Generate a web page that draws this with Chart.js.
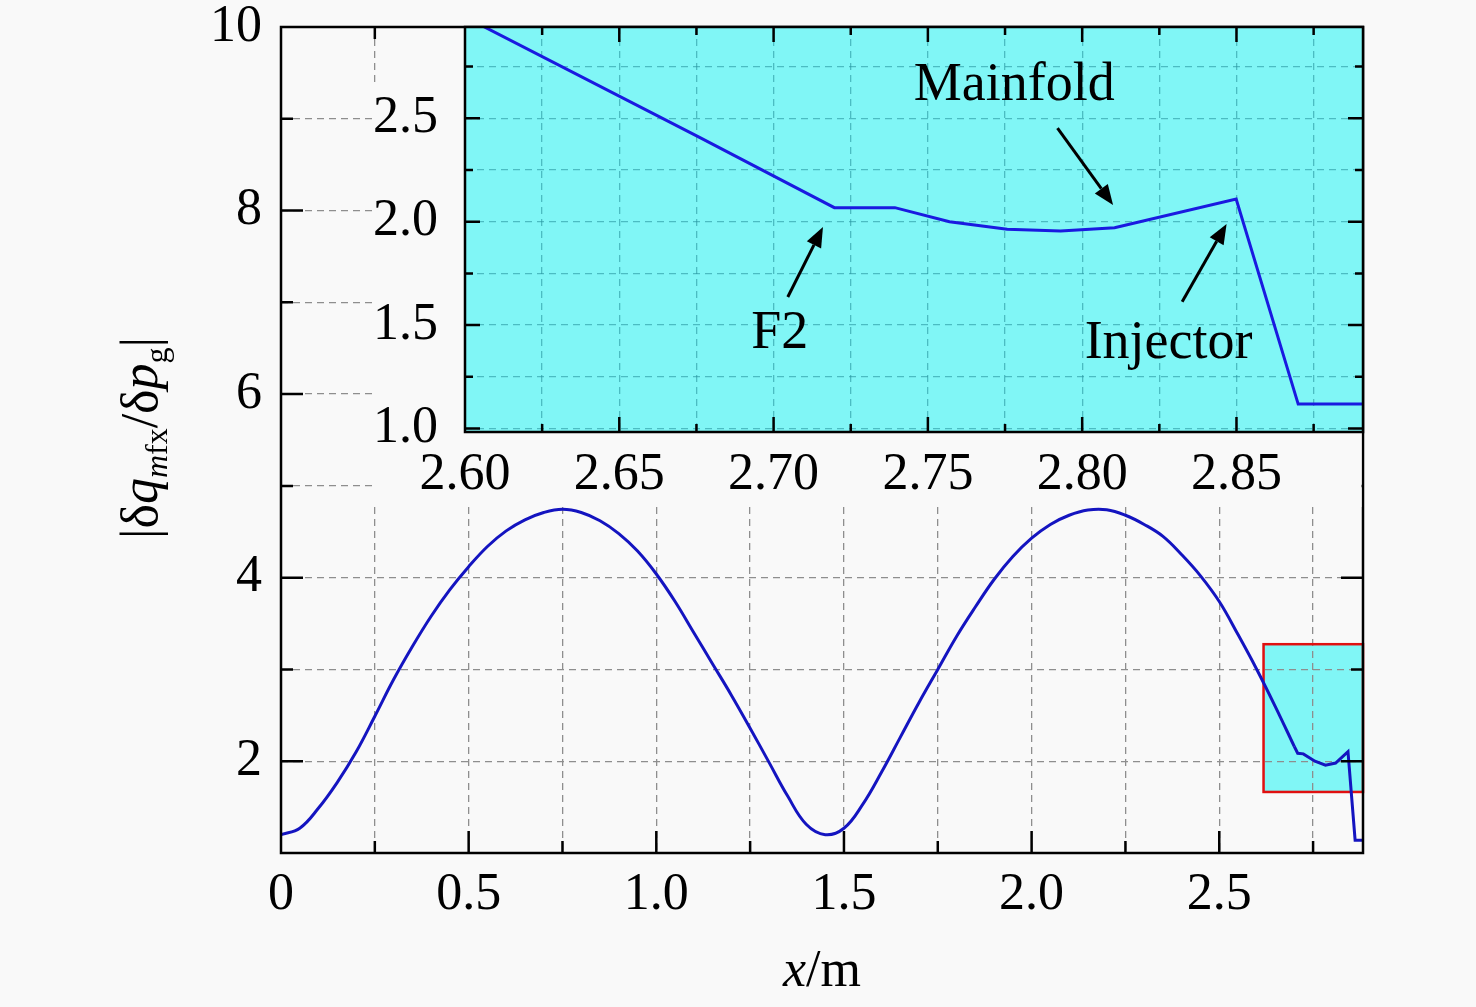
<!DOCTYPE html>
<html>
<head>
<meta charset="utf-8">
<script src="https://cdn.jsdelivr.net/npm/chart.js@4.4.0/dist/chart.umd.min.js"></script>
<style>
html,body{margin:0;padding:0;background:#f9f9f9;overflow:hidden}
#wrap{position:relative;width:1476px;height:1007px}
#wrap canvas{position:absolute;left:0;top:0}
</style>
</head>
<body>
<div id="wrap">
<canvas id="main" width="1476" height="1007"></canvas>
<canvas id="inset" width="1476" height="1007"></canvas>
</div>
<script>
// ---------------- data ----------------
const mainX = [0, 0.05, 0.10, 0.15, 0.20, 0.25, 0.30, 0.35, 0.40, 0.45, 0.50, 0.55, 0.60, 0.65, 0.70, 0.75,
  0.80, 0.85, 0.90, 0.95, 1.00, 1.05, 1.10, 1.15, 1.20, 1.25, 1.30, 1.35, 1.40, 1.45,
  1.50, 1.55, 1.60, 1.65, 1.70, 1.75, 1.80, 1.85, 1.90, 1.95, 2.00, 2.05, 2.10, 2.15,
  2.20, 2.25, 2.30, 2.35, 2.40, 2.45, 2.50, 2.55, 2.60, 2.65, 2.70];
const mainY = [1.20, 1.27, 1.49, 1.77, 2.10, 2.49, 2.89, 3.25, 3.58, 3.87, 4.12, 4.34, 4.51, 4.63, 4.71, 4.745,
  4.71, 4.62, 4.48, 4.29, 4.04, 3.74, 3.40, 3.06, 2.72, 2.36, 1.99, 1.62, 1.31, 1.20,
  1.27, 1.53, 1.88, 2.26, 2.64, 3.00, 3.36, 3.68, 3.98, 4.23, 4.43, 4.58, 4.68, 4.737,
  4.74, 4.68, 4.58, 4.45, 4.25, 4.02, 3.74, 3.38, 3.00, 2.59, 2.16];
const tailX = [2.70, 2.709, 2.724, 2.755, 2.783, 2.81, 2.843, 2.862, 2.883];
const tailY = [2.16, 2.087, 2.08, 2.0, 1.956, 1.98, 2.105, 1.14, 1.14];

const insetX = [2.60, 2.676, 2.7197, 2.7393, 2.757, 2.7757, 2.793, 2.8105, 2.8499, 2.870, 2.891];
const insetY = [2.99, 2.408, 2.068, 2.068, 2.0, 1.963, 1.955, 1.971, 2.110, 1.118, 1.118];

const zoomBoxX = [2.618, 2.883];
const zoomBoxY = [1.665, 3.275];

const mainXMajor = [0, 0.5, 1.0, 1.5, 2.0, 2.5];
const mainXMinor = [0.25, 0.75, 1.25, 1.75, 2.25, 2.75];
const xTickLabels = ['0', '0.5', '1.0', '1.5', '2.0', '2.5'];
const mainYMajor = [2, 4, 6, 8, 10];
const mainYMinor = [1, 3, 5, 7, 9];
const yTickLabels = ['2', '4', '6', '8', '10'];

const insetXMajor = [2.60, 2.65, 2.70, 2.75, 2.80, 2.85];
const insetXMinor = [2.625, 2.675, 2.725, 2.775, 2.825, 2.875];
const insetXTickLabels = ['2.60', '2.65', '2.70', '2.75', '2.80', '2.85'];
const insetYMajor = [1.0, 1.5, 2.0, 2.5];
const insetYMinor = [1.25, 1.75, 2.25, 2.75];
const insetYTickLabels = ['1.0', '1.5', '2.0', '2.5'];

const noteTexts = ['Mainfold', 'F2', 'Injector'];
// ----------------------------------------------------------------

const FONT = "'Liberation Serif', 'Times New Roman', serif";
Chart.defaults.font.family = FONT;
Chart.defaults.font.size = 52;
Chart.defaults.color = '#000';

// annotation placement (inset data coordinates)
const notes = [
  { text: noteTexts[0], t: [2.778, 2.588], a0: [2.792, 2.453], a1: [2.810, 2.081] },
  { text: noteTexts[1], t: [2.702, 1.389], a0: [2.7046, 1.636], a1: [2.716, 1.974] },
  { text: noteTexts[2], t: [2.828, 1.341], a0: [2.8324, 1.613], a1: [2.8468, 1.989] }
];

function setTicks(major, minor) {
  return function (scale) {
    const all = major.concat(minor).map(v => ({ value: v }));
    all.sort((a, b) => a.value - b.value);
    scale.ticks = all;
  };
}
function isMajor(major, v) { return major.some(m => Math.abs(m - v) < 1e-9); }
function labelFor(major, labels) {
  return function (value) {
    const i = major.findIndex(m => Math.abs(m - value) < 1e-9);
    return i >= 0 ? labels[i] : '';
  };
}
function pts(xs, ys) { return xs.map((x, i) => ({ x: x, y: ys[i] })); }

function drawFrameTicks(chart, xMajor, yMajor, majLen, minLen, lw) {
  const { ctx, chartArea: a } = chart;
  const sx = chart.scales.x, sy = chart.scales.y;
  ctx.save();
  ctx.strokeStyle = '#000';
  ctx.lineWidth = lw;
  ctx.beginPath();
  sx.ticks.forEach(t => {
    const p = sx.getPixelForValue(t.value);
    if (p < a.left + 1 || p > a.right - 1) return;
    const L = isMajor(xMajor, t.value) ? majLen : minLen;
    ctx.moveTo(p, a.bottom); ctx.lineTo(p, a.bottom - L);
    ctx.moveTo(p, a.top); ctx.lineTo(p, a.top + L);
  });
  sy.ticks.forEach(t => {
    const p = sy.getPixelForValue(t.value);
    if (p < a.top + 1 || p > a.bottom - 1) return;
    const L = isMajor(yMajor, t.value) ? majLen : minLen;
    ctx.moveTo(a.left, p); ctx.lineTo(a.left + L, p);
    ctx.moveTo(a.right, p); ctx.lineTo(a.right - L, p);
  });
  ctx.stroke();
  ctx.lineWidth = lw;
  ctx.strokeRect(a.left, a.top, a.right - a.left, a.bottom - a.top);
  ctx.restore();
}

function drawRich(ctx, parts, size) {
  const subSize = Math.round(size * 0.62);
  const fontOf = p => (p.i ? 'italic ' : '') + (p.s ? subSize : size) + 'px ' + FONT;
  let total = 0;
  parts.forEach(p => { ctx.font = fontOf(p); p.w = ctx.measureText(p.t).width; total += p.w; });
  let x = -total / 2;
  ctx.textAlign = 'left';
  ctx.textBaseline = 'alphabetic';
  parts.forEach(p => {
    ctx.font = fontOf(p);
    ctx.fillText(p.t, x, p.s ? size * 0.2 : 0);
    x += p.w;
  });
}

const mainPlugin = {
  id: 'mainDeco',
  beforeDraw(chart) {
    const { ctx } = chart;
    const sx = chart.scales.x, sy = chart.scales.y;
    const x0 = sx.getPixelForValue(zoomBoxX[0]), x1 = sx.getPixelForValue(zoomBoxX[1]);
    const y0 = sy.getPixelForValue(zoomBoxY[1]), y1 = sy.getPixelForValue(zoomBoxY[0]);
    ctx.save();
    ctx.fillStyle = '#80f6f6';
    ctx.fillRect(x0, y0, x1 - x0, y1 - y0);
    ctx.restore();
  },
  beforeDatasetsDraw(chart) {
    const { ctx } = chart;
    const sx = chart.scales.x, sy = chart.scales.y;
    const x0 = sx.getPixelForValue(zoomBoxX[0]), x1 = sx.getPixelForValue(zoomBoxX[1]);
    const y0 = sy.getPixelForValue(zoomBoxY[1]), y1 = sy.getPixelForValue(zoomBoxY[0]);
    ctx.save();
    ctx.strokeStyle = '#e01010';
    ctx.lineWidth = 2.5;
    ctx.strokeRect(x0, y0, x1 - x0, y1 - y0);
    ctx.restore();
  },
  afterDraw(chart) {
    const { ctx } = chart;
    drawFrameTicks(chart, mainXMajor, mainYMajor, 22, 12, 2.5);
    ctx.save();
    ctx.fillStyle = '#000';
    ctx.translate(822, 986);
    drawRich(ctx, [{ t: 'x', i: 1 }, { t: '/m' }], 52);
    ctx.restore();
    ctx.save();
    ctx.fillStyle = '#000';
    ctx.translate(157, 438);
    ctx.rotate(-Math.PI / 2);
    drawRich(ctx, [
      { t: '|' }, { t: 'δ' }, { t: 'q', i: 1 }, { t: 'm', i: 1, s: 1 }, { t: 'fx', s: 1 },
      { t: '/' }, { t: 'δ' }, { t: 'p', i: 1 }, { t: 'g', s: 1 }, { t: '|' }
    ], 52);
    ctx.restore();
  }
};

const insetPlugin = {
  id: 'insetDeco',
  beforeDraw(chart) {
    const { ctx, chartArea: a } = chart;
    ctx.save();
    ctx.fillStyle = '#f9f9f9';
    ctx.fillRect(374, 85, a.right - 1.5 - 374, 507 - 85);
    ctx.fillStyle = '#80f6f6';
    ctx.fillRect(a.left, a.top, a.right - a.left, a.bottom - a.top);
    ctx.restore();
  },
  afterDraw(chart) {
    const { ctx } = chart;
    const sx = chart.scales.x, sy = chart.scales.y;
    drawFrameTicks(chart, insetXMajor, insetYMajor, 15, 8, 2.5);
    ctx.save();
    ctx.fillStyle = '#000';
    ctx.strokeStyle = '#000';
    ctx.font = '54px ' + FONT;
    ctx.textAlign = 'center';
    ctx.textBaseline = 'alphabetic';
    notes.forEach(n => {
      ctx.fillText(n.text, sx.getPixelForValue(n.t[0]), sy.getPixelForValue(n.t[1]));
      const x0 = sx.getPixelForValue(n.a0[0]), y0 = sy.getPixelForValue(n.a0[1]);
      const x1 = sx.getPixelForValue(n.a1[0]), y1 = sy.getPixelForValue(n.a1[1]);
      const ang = Math.atan2(y1 - y0, x1 - x0);
      const hl = 20, hw = 8;
      const bx = x1 - hl * Math.cos(ang), by = y1 - hl * Math.sin(ang);
      ctx.lineWidth = 3;
      ctx.beginPath(); ctx.moveTo(x0, y0); ctx.lineTo(bx, by); ctx.stroke();
      ctx.beginPath();
      ctx.moveTo(x1, y1);
      ctx.lineTo(bx + hw * Math.sin(ang), by - hw * Math.cos(ang));
      ctx.lineTo(bx - hw * Math.sin(ang), by + hw * Math.cos(ang));
      ctx.closePath(); ctx.fill();
    });
    ctx.restore();
  }
};

new Chart(document.getElementById('main'), {
  type: 'line',
  data: {
    datasets: [
      { data: pts(mainX, mainY), borderColor: '#1414c0', borderWidth: 3, pointRadius: 0, tension: 0.4, fill: false },
      { data: pts(tailX, tailY), borderColor: '#1414c0', borderWidth: 3, pointRadius: 0, tension: 0, fill: false }
    ]
  },
  options: {
    responsive: false,
    animation: false,
    events: [],
    layout: { padding: { left: 0, right: 113, top: 27, bottom: 0 } },
    plugins: { legend: { display: false }, tooltip: { enabled: false } },
    scales: {
      x: {
        type: 'linear', min: 0, max: 2.883,
        afterBuildTicks: setTicks(mainXMajor, mainXMinor),
        afterFit: s => { s.height = 154; s.paddingLeft = 0; s.paddingRight = 0; },
        ticks: { callback: labelFor(mainXMajor, xTickLabels), autoSkip: false, maxRotation: 0, minRotation: 0, padding: 11, font: { size: 52 } },
        grid: { color: '#8e8e8e', lineWidth: 1.3, drawTicks: false },
        border: { display: false, dash: [7, 5] }
      },
      y: {
        type: 'linear', min: 1, max: 10,
        afterBuildTicks: setTicks(mainYMajor, mainYMinor),
        afterFit: s => { s.width = 281; s.paddingTop = 0; s.paddingBottom = 0; },
        ticks: { callback: labelFor(mainYMajor, yTickLabels), autoSkip: false, padding: 19, font: { size: 52 } },
        grid: { color: '#8e8e8e', lineWidth: 1.3, drawTicks: false },
        border: { display: false, dash: [7, 5] }
      }
    }
  },
  plugins: [mainPlugin]
});

new Chart(document.getElementById('inset'), {
  type: 'line',
  data: {
    datasets: [
      { data: pts(insetX, insetY), borderColor: '#1a1ae0', borderWidth: 3, pointRadius: 0, tension: 0, fill: false }
    ]
  },
  options: {
    responsive: false,
    animation: false,
    events: [],
    layout: { padding: { left: 0, right: 113, top: 27, bottom: 0 } },
    plugins: { legend: { display: false }, tooltip: { enabled: false } },
    scales: {
      x: {
        type: 'linear', min: 2.60, max: 2.891,
        afterBuildTicks: setTicks(insetXMajor, insetXMinor),
        afterFit: s => { s.height = 575; s.paddingLeft = 0; s.paddingRight = 0; },
        ticks: { callback: labelFor(insetXMajor, insetXTickLabels), autoSkip: false, maxRotation: 0, minRotation: 0, padding: 12, font: { size: 52 } },
        grid: { color: 'rgba(40,150,160,0.6)', lineWidth: 1.3, drawTicks: false },
        border: { display: false, dash: [7, 5] }
      },
      y: {
        type: 'linear', min: 0.983, max: 2.9415,
        afterBuildTicks: setTicks(insetYMajor, insetYMinor),
        afterFit: s => { s.width = 465; s.paddingTop = 0; s.paddingBottom = 0; },
        ticks: { callback: labelFor(insetYMajor, insetYTickLabels), autoSkip: false, padding: 27, font: { size: 52 } },
        grid: { color: 'rgba(40,150,160,0.6)', lineWidth: 1.3, drawTicks: false },
        border: { display: false, dash: [7, 5] }
      }
    }
  },
  plugins: [insetPlugin]
});
</script>
</body>
</html>
